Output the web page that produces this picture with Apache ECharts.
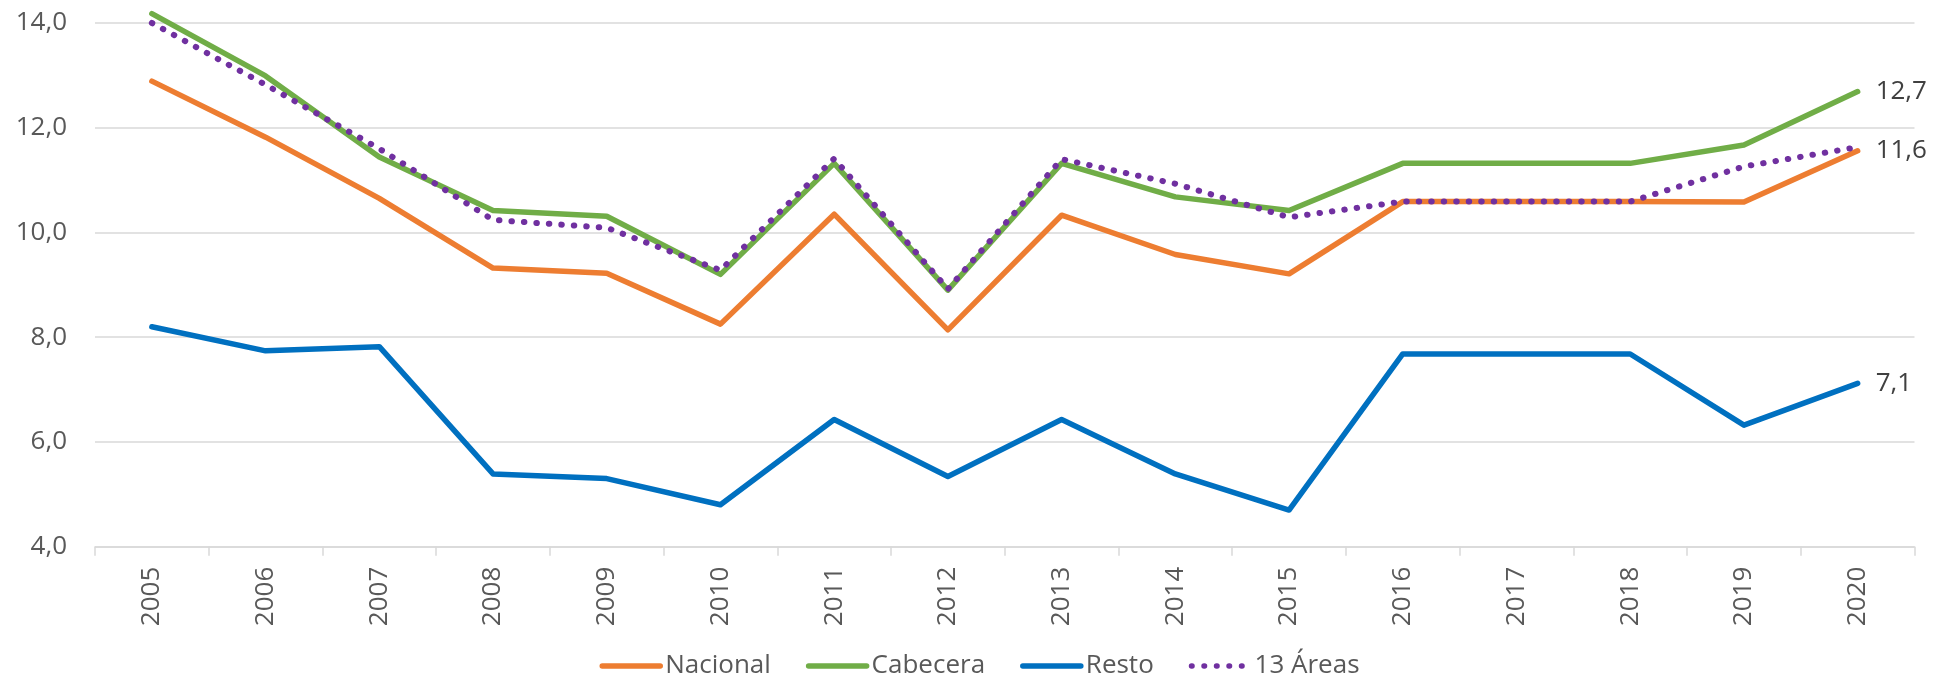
<!DOCTYPE html>
<html>
<head>
<meta charset="utf-8">
<script src="https://cdn.jsdelivr.net/npm/echarts@6/dist/echarts.min.js"></script>
<style>
html,body{margin:0;padding:0;background:#fff;}
#chart{width:1959px;height:684px;}
</style>
</head>
<body>
<div id="chart"></div>
<script>
const years = ['2005','2006','2007','2008','2009','2010','2011','2012','2013','2014','2015','2016','2017','2018','2019','2020'];
const nacional = [12.89, 11.82, 10.65, 9.32, 9.22, 8.25, 10.35, 8.14, 10.33, 9.58, 9.21, 10.59, 10.59, 10.59, 10.58, 11.56];
const cabecera = [14.18, 12.99, 11.44, 10.42, 10.31, 9.20, 11.32, 8.90, 11.32, 10.68, 10.42, 11.32, 11.32, 11.32, 11.67, 12.69];
const resto = [8.20, 7.74, 7.82, 5.39, 5.30, 4.80, 6.43, 5.34, 6.43, 5.39, 4.70, 7.68, 7.68, 7.68, 6.32, 7.12];
const areas13 = [14.00, 12.82, 11.60, 10.24, 10.09, 9.28, 11.41, 8.92, 11.40, 10.93, 10.29, 10.59, 10.59, 10.59, 11.26, 11.63];
const yTicks = [4, 6, 8, 10, 12, 14];

const FONT = 'Open Sans';
const fmt = v => v.toFixed(1).replace('.', ',');

function mkSeries(name, data, color, dotted, labelled) {
  return {
    name: name, type: 'line', data: data,
    symbol: 'none', showSymbol: false, clip: false,
    lineStyle: dotted ? { color: color, width: 6, type: [0.5, 12], cap: 'round' } : { color: color, width: 5.5, cap: 'round', join: 'round' },
    itemStyle: { color: color },
    endLabel: {
      show: labelled, distance: 18,
      formatter: p => fmt(p.value), fontFamily: FONT, fontSize: 26, color: '#404040'
    },
    emphasis: { disabled: true }
  };
}

const chart = echarts.init(document.getElementById('chart'));
chart.setOption({
  animation: false,
  backgroundColor: '#fff',
  textStyle: { fontFamily: FONT },
  grid: { left: 95, right: 44.5, top: 23, bottom: 137.3, containLabel: false },
  legend: {
    bottom: 0, left: 'center', itemWidth: 58, itemHeight: 14, itemGap: 35,
    itemStyle: { opacity: 0 },
    lineStyle: { width: 5.5 },
    textStyle: { fontFamily: FONT, fontSize: 26, color: '#595959' },
    data: ['Nacional', 'Cabecera', 'Resto', '13 Áreas']
  },
  xAxis: {
    type: 'category', data: years, boundaryGap: true,
    axisLine: { lineStyle: { color: '#d9d9d9', width: 1.5 } },
    axisTick: { show: true, length: 9, lineStyle: { color: '#d9d9d9', width: 1.5 } },
    axisLabel: { rotate: 90, margin: 20, fontFamily: FONT, fontSize: 26, color: '#595959' }
  },
  yAxis: {
    type: 'value', min: yTicks[0], max: yTicks[yTicks.length - 1], interval: 2,
    axisLine: { show: false }, axisTick: { show: false },
    splitLine: { lineStyle: { color: '#d9d9d9', width: 1.5 } },
    axisLabel: { margin: 28, fontFamily: FONT, fontSize: 26, color: '#595959', formatter: v => fmt(v) }
  },
  series: [
    mkSeries('Nacional', nacional, '#ED7D31', false, true),
    mkSeries('Cabecera', cabecera, '#70AD47', false, true),
    mkSeries('Resto', resto, '#0070C0', false, true),
    mkSeries('13 Áreas', areas13, '#7030A0', true, false)
  ]
});
</script>
</body>
</html>
